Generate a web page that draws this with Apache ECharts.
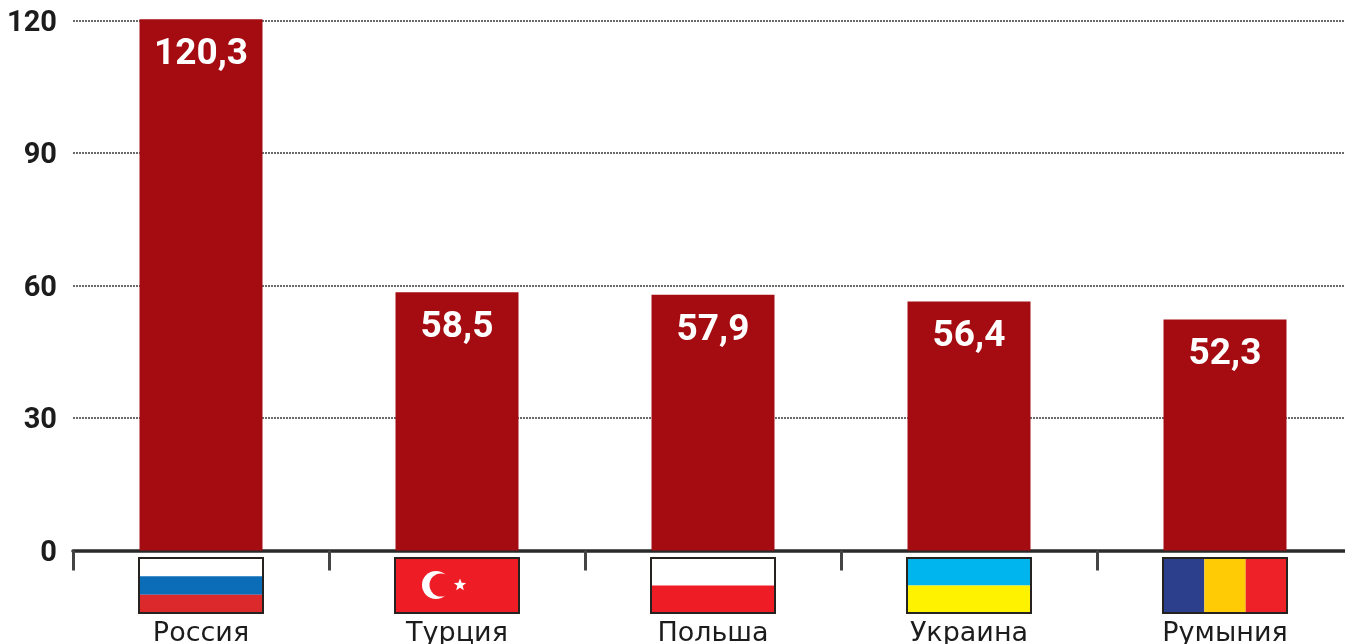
<!DOCTYPE html>
<html><head><meta charset="utf-8">
<style>html,body{margin:0;padding:0;background:#fff;overflow:hidden}#c{width:1345px;height:644px}</style>
<script src="https://cdn.jsdelivr.net/npm/echarts@6/dist/echarts.min.js"></script>
</head><body><div id="c"></div>
<script>
const categories = ['Россия','Турция','Польша','Украина','Румыния'];
const values = [120.3,58.5,57.9,56.4,52.3];
const valueLabels = ['120,3','58,5','57,9','56,4','52,3'];
const yTicks = [0,30,60,90,120];

const FW=124, FH=55, FTOP=7;
function rect(x,y,w,h,fill){return {type:'rect',shape:{x,y,width:w,height:h},style:{fill}};}
function starPts(cx,cy,R,r){const p=[];for(let i=0;i<10;i++){const a=-Math.PI/2+i*Math.PI/5,q=i%2?r:R;p.push([cx+q*Math.cos(a),cy+q*Math.sin(a)]);}return p;}
function flag(i,x,y){
  const w=FW,h=FH,c=[];
  if(i===0){c.push(rect(x,y,w,h/3,'#ffffff'),rect(x,y+h/3,w,h/3,'#0b6cb8'),rect(x,y+2*h/3,w,h/3,'#dc2a2c'));}
  if(i===1){c.push(rect(x,y,w,h,'#ee1c25'));
    c.push({type:'circle',shape:{cx:x+41,cy:y+27,r:14},style:{fill:'#fff'}});
    c.push({type:'circle',shape:{cx:x+46,cy:y+27,r:11.5},style:{fill:'#ee1c25'}});
    c.push({type:'polygon',shape:{points:starPts(x+65,y+27,6.5,2.8)},style:{fill:'#fff'}});}
  if(i===2){c.push(rect(x,y,w,h/2,'#ffffff'),rect(x,y+h/2,w,h/2,'#ee1c25'));}
  if(i===3){c.push(rect(x,y,w,h/2,'#00b4ee'),rect(x,y+h/2,w,h/2,'#fff200'));}
  if(i===4){c.push(rect(x,y,w/3,h,'#2b3f8c'),rect(x+w/3,y,w/3,h,'#ffcb05'),rect(x+2*w/3,y,w/3,h,'#ee2028'));}
  c.push({type:'rect',shape:{x,y,width:w,height:h},style:{fill:'none',stroke:'#26221f',lineWidth:2}});
  return c;
}
const chart = echarts.init(document.getElementById('c'),null,{renderer:'canvas'});
chart.setOption({
  animation:false,
  backgroundColor:'#fff',
  grid:{left:73,top:20.5,width:1280,height:530,containLabel:false,outerBoundsMode:'none'},
  xAxis:{type:'category',data:categories,
    axisLine:{show:true,onZero:true,lineStyle:{color:'#2a2a2a',width:3.5}},
    axisTick:{show:true,length:20,alignWithLabel:false,lineStyle:{color:'#444',width:3}},
    axisLabel:{show:true,interval:0,margin:70,fontFamily:'DejaVu Sans',fontSize:27,color:'#1c1c1c',letterSpacing:3,hideOverlap:false},
    splitLine:{show:false}},
  yAxis:{type:'value',min:0,max:120,interval:30,
    axisLine:{show:false},axisTick:{show:false},
    axisLabel:{show:true,margin:16,verticalAlign:'top',lineHeight:6,fontFamily:'Roboto',fontWeight:'bold',fontSize:29,color:'#1c1c1c',letterSpacing:-2,
      formatter:v=>yTicks.includes(v)?String(v):''},
    splitLine:{show:true,lineStyle:{color:'#3a3a3a',type:[2,1],width:1.5}}},
  series:[
    {type:'bar',data:values,barWidth:123,clip:false,z:3,
     itemStyle:{color:'#a50c12'},
     label:{show:true,position:'insideTop',distance:17,fontFamily:'Roboto',fontWeight:'bold',fontSize:37,color:'#fff',
       formatter:p=>valueLabels[p.dataIndex]}},
    {type:'custom',z:4,clip:false,silent:true,data:categories.map((c,i)=>[i,0]),
     encode:{x:0,y:1},
     renderItem:(params,api)=>{
       const p=api.coord([api.value(0),0]);
       return {type:'group',children:flag(params.dataIndex,Math.floor(p[0]-FW/2),Math.round(p[1]+FTOP))};
     }}
  ]
});
</script></body></html>
